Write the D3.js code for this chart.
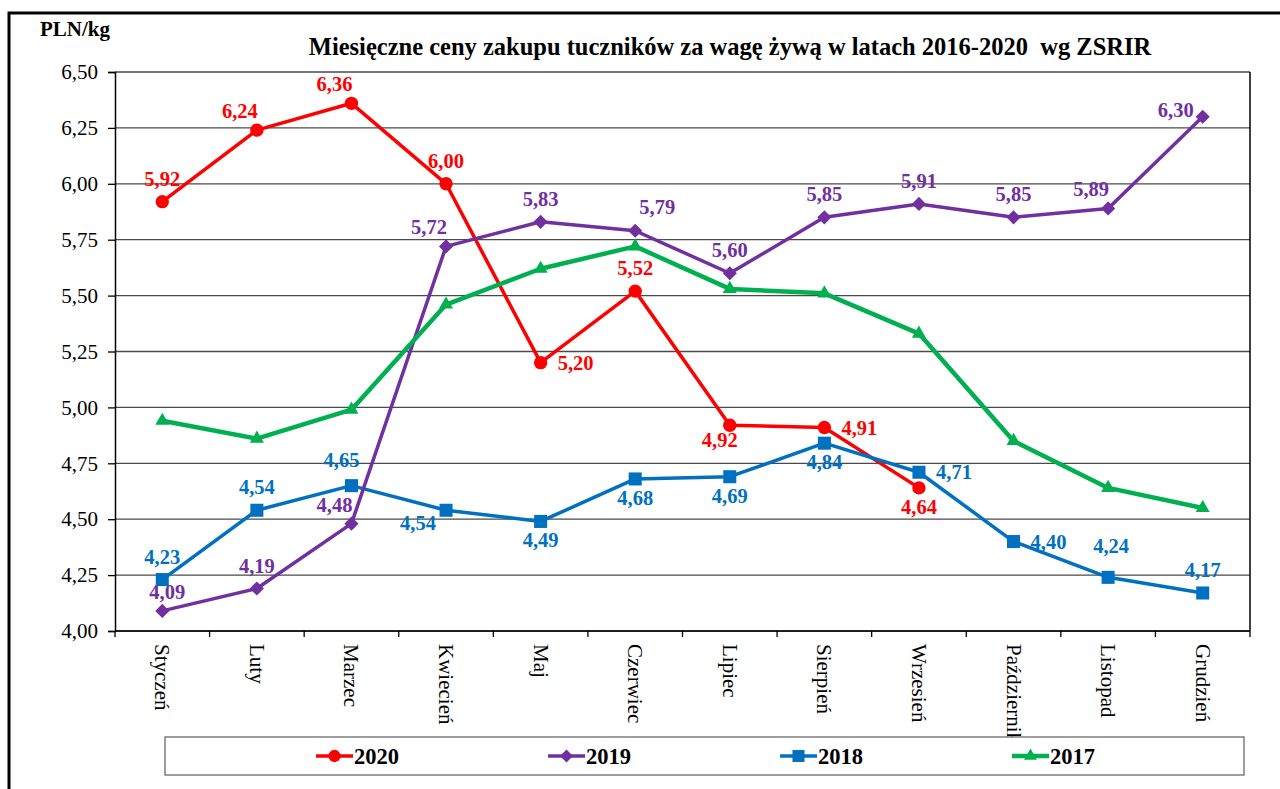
<!DOCTYPE html>
<html>
<head>
<meta charset="utf-8">
<script src="https://cdn.jsdelivr.net/npm/d3@7"></script>
<style>
    body { margin: 0; background: #fff; }
    svg { display: block; font-family: "Liberation Serif", "Times New Roman", serif; }
</style>
</head>
<body>
<div id="chart"></div>
<script>
var months = ["Styczeń", "Luty", "Marzec", "Kwiecień", "Maj", "Czerwiec", "Lipiec",
              "Sierpień", "Wrzesień", "Październik", "Listopad", "Grudzień"];
var years = ["2020", "2019", "2018", "2017"];

var prices2020 = [5.92, 6.24, 6.36, 6.00, 5.20, 5.52, 4.92, 4.91, 4.64];
var prices2019 = [4.09, 4.19, 4.48, 5.72, 5.83, 5.79, 5.60, 5.85, 5.91, 5.85, 5.89, 6.30];
var prices2018 = [4.23, 4.54, 4.65, 4.54, 4.49, 4.68, 4.69, 4.84, 4.71, 4.40, 4.24, 4.17];
var prices2017 = [4.94, 4.86, 4.99, 5.46, 5.62, 5.72, 5.53, 5.51, 5.33, 4.85, 4.64, 4.55];

var yTicks = [4.00, 4.25, 4.50, 4.75, 5.00, 5.25, 5.50, 5.75, 6.00, 6.25, 6.50];

var title = "Miesięczne ceny zakupu tuczników za wagę żywą w latach 2016-2020  wg ZSRIR";
var unitLabel = "PLN/kg";

// where each value label sits relative to its point (2017 has no labels)
var place2020 = ["t", "tl", "tl", "t", "r", "t", "bl2", "r", "b"];
var place2019 = ["tr2", "t", "tl", "tl", "t", "tr", "t", "t", "t", "t", "tl", "l"];
var place2018 = ["t", "t", "tl2", "bl", "b", "b", "b", "b", "r", "r", "tt", "t"];

var W = 1280, H = 789;
var plot = { left: 115, right: 1250, top: 72, bottom: 631 };

var svg = d3.select("#chart")
    .append("svg")
        .attr("width", W)
        .attr("height", H);

var x = d3.scaleBand()
    .domain(months)
    .range([plot.left, plot.right]);

var y = d3.scaleLinear()
    .domain([4, 6.5])
    .range([plot.bottom, plot.top]);

var fmt = function(v){ return d3.format(".2f")(v).replace(".", ","); };
var cx = function(i){ return x(months[i]) + x.bandwidth() / 2; };

// outer frame
svg.append("rect")
    .attr("x", 9).attr("y", 13)
    .attr("width", 1300).attr("height", 820)
    .attr("fill", "none")
    .attr("stroke", "#000")
    .attr("stroke-width", 3);

// gridlines
svg.append("g")
    .selectAll("line")
    .data(yTicks)
    .enter()
    .append("line")
        .attr("x1", plot.left).attr("x2", plot.right)
        .attr("y1", function(d){ return y(d); })
        .attr("y2", function(d){ return y(d); })
        .attr("stroke", "#4a4a4a")
        .attr("stroke-width", 1.3);

// right border
svg.append("line")
    .attr("x1", plot.right).attr("x2", plot.right)
    .attr("y1", plot.top).attr("y2", plot.bottom)
    .attr("stroke", "#000").attr("stroke-width", 1.5);

// y axis
var yAxis = svg.append("g")
    .attr("transform", "translate(" + plot.left + ",0)")
    .call(d3.axisLeft(y).tickValues(yTicks).tickSize(7).tickPadding(10).tickFormat(fmt));
yAxis.select(".domain").attr("stroke", "#000").attr("stroke-width", 1.5);
yAxis.selectAll(".tick line").attr("stroke", "#000").attr("stroke-width", 1.3);
yAxis.selectAll(".tick text")
    .attr("font-family", "Liberation Serif, serif")
    .attr("font-size", 21)
    .attr("fill", "#000");

// x axis line and ticks at band edges
svg.append("line")
    .attr("x1", plot.left).attr("x2", plot.right)
    .attr("y1", plot.bottom).attr("y2", plot.bottom)
    .attr("stroke", "#000").attr("stroke-width", 1.5);

svg.append("g")
    .selectAll("line")
    .data(d3.range(months.length + 1))
    .enter()
    .append("line")
        .attr("x1", function(d){ return plot.left + d * x.step(); })
        .attr("x2", function(d){ return plot.left + d * x.step(); })
        .attr("y1", plot.bottom).attr("y2", plot.bottom + 6)
        .attr("stroke", "#000").attr("stroke-width", 1.3);

svg.append("g")
    .selectAll("text")
    .data(months)
    .enter()
    .append("text")
        .attr("transform", function(d, i){ return "translate(" + cx(i) + "," + (plot.bottom + 13) + ") rotate(90)"; })
        .attr("dominant-baseline", "central")
        .attr("font-size", 21)
        .attr("fill", "#000")
        .text(function(d){ return d; });

// title and unit
svg.append("text")
    .attr("x", 730).attr("y", 55)
    .attr("text-anchor", "middle")
    .attr("font-weight", "bold")
    .attr("font-size", 24.5)
    .style("white-space", "pre")
    .text(title);

svg.append("text")
    .attr("x", 40).attr("y", 36)
    .attr("font-weight", "bold")
    .attr("font-size", 21)
    .text(unitLabel);

// series
var series = [
    { name: "2020", values: prices2020, place: place2020, color: "#ff0000", width: 3.5, shape: d3.symbolCircle, size: 140, rot: 0 },
    { name: "2018", values: prices2018, place: place2018, color: "#0070c0", width: 3.5, shape: d3.symbolSquare, size: 170, rot: 0 },
    { name: "2019", values: prices2019, place: place2019, color: "#7030a0", width: 3.5, shape: d3.symbolSquare, size: 100, rot: 45 },
    { name: "2017", values: prices2017, place: null, color: "#00b050", width: 4.5, shape: d3.symbolTriangle, size: 85, rot: 0 }
];

var line = d3.line()
    .x(function(d, i){ return cx(i); })
    .y(function(d){ return y(d); });

var lines_g = svg.append("g");
series.forEach(function(s){
    var g = lines_g.append("g");
    g.append("path")
        .attr("d", line(s.values))
        .attr("fill", "none")
        .attr("stroke", s.color)
        .attr("stroke-width", s.width)
        .attr("stroke-linejoin", "round");
    g.selectAll("path.marker")
        .data(s.values)
        .enter()
        .append("path")
            .attr("class", "marker")
            .attr("d", d3.symbol().type(s.shape).size(s.size))
            .attr("transform", function(d, i){ return "translate(" + cx(i) + "," + y(d) + ") rotate(" + s.rot + ")"; })
            .attr("fill", s.color);
});

var offsets = {
    t:   [0, -23],
    tt:  [3, -31],
    b:   [0, 19],
    r:   [35, 0],
    l:   [-27, -7],
    tl:  [-17, -19],
    tl2: [-10, -26],
    tr:  [22, -24],
    tr2: [5, -19],
    bl:  [-28, 13],
    bl2: [-10, 15]
};

var labels_g = svg.append("g");
series.forEach(function(s){
    if (!s.place) return;
    labels_g.selectAll(null)
        .data(s.values)
        .enter()
        .append("text")
            .attr("x", function(d, i){ return cx(i) + offsets[s.place[i]][0]; })
            .attr("y", function(d, i){ return y(d) + offsets[s.place[i]][1]; })
            .attr("text-anchor", "middle")
            .attr("dominant-baseline", "central")
            .attr("font-weight", "bold")
            .attr("font-size", 20.5)
            .attr("fill", s.color)
            .text(fmt);
});

// legend
var legend = svg.append("g");
legend.append("rect")
    .attr("x", 165).attr("y", 737)
    .attr("width", 1079).attr("height", 38)
    .attr("fill", "#fff")
    .attr("stroke", "#7f7f7f")
    .attr("stroke-width", 1.5);

var legendItems = years.map(function(yr){
    return series.filter(function(s){ return s.name === yr; })[0];
});

var item = legend.selectAll("g.item")
    .data(legendItems)
    .enter()
    .append("g")
        .attr("class", "item")
        .attr("transform", function(d, i){ return "translate(" + (316 + i * 232) + ",756)"; });

item.append("line")
    .attr("x1", 0).attr("x2", 37)
    .attr("stroke", function(d){ return d.color; })
    .attr("stroke-width", function(d){ return d.width; });

item.append("path")
    .attr("d", function(d){ return d3.symbol().type(d.shape).size(d.size * 0.85)(); })
    .attr("transform", function(d){ return "translate(18.5,0) rotate(" + d.rot + ")"; })
    .attr("fill", function(d){ return d.color; });

item.append("text")
    .attr("x", 38)
    .attr("dominant-baseline", "central")
    .attr("font-weight", "bold")
    .attr("font-size", 22.5)
    .attr("fill", "#000")
    .text(function(d){ return d.name; });
</script>
</body>
</html>
